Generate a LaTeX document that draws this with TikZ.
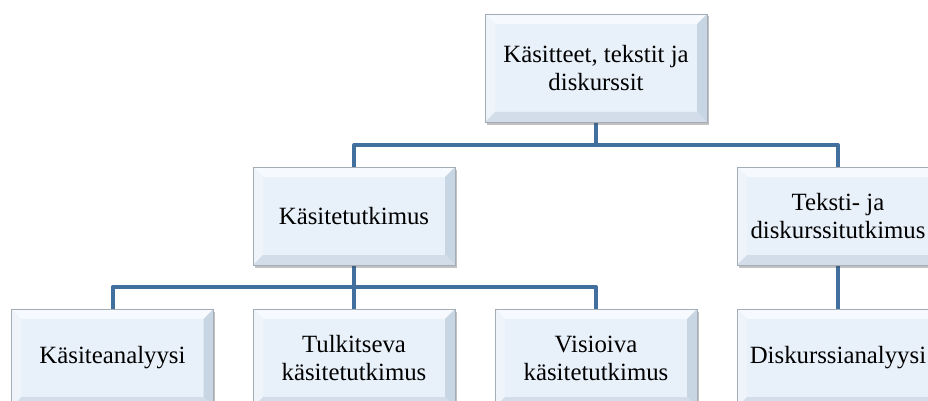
\documentclass[tikz,border=0pt]{standalone}
\usepackage{fontspec}
\setmainfont{Liberation Serif}
\usetikzlibrary{shadows,backgrounds}
\definecolor{boxfill}{HTML}{E8F0F9}
\definecolor{bandlight}{HTML}{F6F9FD}
\definecolor{bandleft}{HTML}{EEF4FA}
\definecolor{banddark}{HTML}{C8D5E3}
\definecolor{bandbottom}{HTML}{D2DDE9}
\definecolor{boxedge}{HTML}{A4ACB6}
\definecolor{conncol}{HTML}{41709F}
\tikzset{
  bevelbox/.style={rectangle, minimum width=202pt, minimum height=98pt,
    inner sep=0pt, align=center, fill=boxfill, draw=boxedge, line width=0.5pt,
    font=\fontsize{24.8}{28}\selectfont,
    drop shadow={shadow xshift=1.5pt, shadow yshift=-2.5pt, opacity=0.35, fill=black!70},
    path picture={
      \fill[bandlight] (path picture bounding box.north west) -- (path picture bounding box.north east)
        -- ([xshift=-10pt,yshift=-10pt]path picture bounding box.north east)
        -- ([xshift=10pt,yshift=-10pt]path picture bounding box.north west) -- cycle;
      \fill[bandleft] (path picture bounding box.north west) -- (path picture bounding box.south west)
        -- ([xshift=10pt,yshift=10pt]path picture bounding box.south west)
        -- ([xshift=10pt,yshift=-10pt]path picture bounding box.north west) -- cycle;
      \fill[banddark] (path picture bounding box.north east) -- (path picture bounding box.south east)
        -- ([xshift=-10pt,yshift=10pt]path picture bounding box.south east)
        -- ([xshift=-10pt,yshift=-10pt]path picture bounding box.north east) -- cycle;
      \fill[bandbottom] (path picture bounding box.south west) -- (path picture bounding box.south east)
        -- ([xshift=-10pt,yshift=10pt]path picture bounding box.south east)
        -- ([xshift=10pt,yshift=10pt]path picture bounding box.south west) -- cycle;
    }},
  conn/.style={draw=conncol, line width=4pt, line join=round, line cap=butt}
}
\begin{document}
\begin{tikzpicture}[x=1pt, y=-1pt]
\useasboundingbox (0,0) rectangle (928,401);
\clip (0,0) rectangle (928,401);
\node[bevelbox, minimum width=222pt, minimum height=108pt] (top) at (596,68) {Käsitteet, tekstit ja\\diskurssit};
\node[bevelbox] (ka) at (354,216) {Käsitetutkimus};
\node[bevelbox] (te) at (838,216) {Teksti- ja\\diskurssitutkimus};
\node[bevelbox] (kan) at (112.5,358) {Käsiteanalyysi};
\node[bevelbox] (tu) at (354,358) {Tulkitseva\\käsitetutkimus};
\node[bevelbox] (vi) at (596,358) {Visioiva\\käsitetutkimus};
\node[bevelbox] (di) at (838,358) {Diskurssianalyysi};
\coordinate (b1) at (596,145);
\coordinate (b2) at (354,287);
\begin{pgfonlayer}{background}
\draw[conn] (top.south) -- (b1);
\draw[conn] (ka.north) |- (b1) -| (te.north);
\draw[conn] (ka.south) -- (b2);
\draw[conn] (kan.north) |- (b2) -| (vi.north);
\draw[conn] (b2) -- (tu.north);
\draw[conn] (te.south) -- (di.north);
\end{pgfonlayer}
\end{tikzpicture}
\end{document}
